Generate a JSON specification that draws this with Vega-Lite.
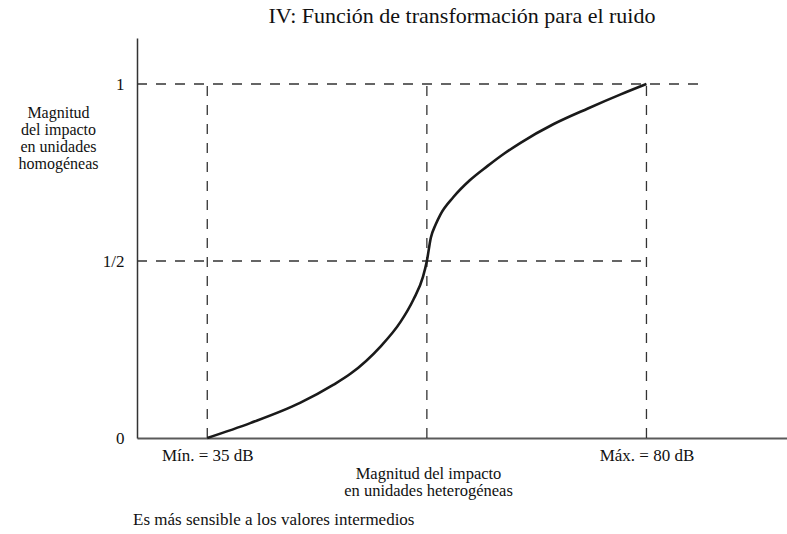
{
  "$schema": "https://vega.github.io/schema/vega-lite/v6.json",
  "autosize": "none",
  "width": 650,
  "height": 400,
  "padding": {"left": 137, "top": 38, "right": 0, "bottom": 96},
  "background": "white",
  "config": {
    "view": {"stroke": null},
    "font": "Liberation Serif",
    "axis": {"labelFont": "Liberation Serif", "titleFont": "Liberation Serif", "labelColor": "#111", "titleColor": "#111", "grid": false, "ticks": false, "titleFontWeight": "normal"},
    "title": {"font": "Liberation Serif", "fontWeight": "normal", "color": "#111"}
  },
  "title": {"text": "IV: Función de transformación para el ruido", "fontSize": 22, "anchor": "middle", "offset": 10},
  "datasets": {
    "guides": [
      {"x": 27.8, "x2": 85.8, "y": 1, "y2": 1},
      {"x": 27.8, "x2": 80, "y": 0.5, "y2": 0.5},
      {"x": 35, "x2": 35, "y": 0, "y2": 1},
      {"x": 57.5, "x2": 57.5, "y": 0, "y2": 1},
      {"x": 80, "x2": 80, "y": 0, "y2": 1}
    ],
    "curve": [
      {"db": 35, "v": 0},
      {"db": 39.4, "v": 0.042},
      {"db": 44.5, "v": 0.099},
      {"db": 47.9, "v": 0.15},
      {"db": 49.7, "v": 0.182},
      {"db": 52.7, "v": 0.257},
      {"db": 54.8, "v": 0.328},
      {"db": 56.1, "v": 0.39},
      {"db": 57.1, "v": 0.455},
      {"db": 57.5, "v": 0.5},
      {"db": 57.9, "v": 0.565},
      {"db": 58.4, "v": 0.603},
      {"db": 58.9, "v": 0.632},
      {"db": 60.2, "v": 0.68},
      {"db": 61.9, "v": 0.728},
      {"db": 63.7, "v": 0.768},
      {"db": 65.4, "v": 0.803},
      {"db": 67.1, "v": 0.834},
      {"db": 70.5, "v": 0.887},
      {"db": 74.0, "v": 0.931},
      {"db": 77.3, "v": 0.97},
      {"db": 80, "v": 1}
    ],
    "note": [
      {"x": 27.4, "y": -0.232, "text": "Es más sensible a los valores intermedios"}
    ]
  },
  "layer": [
    {
      "data": {"name": "guides"},
      "mark": {"type": "rule", "strokeDash": [10, 9], "color": "#333", "strokeWidth": 1.3},
      "encoding": {
        "x": {"field": "x", "type": "quantitative", "scale": {"domain": [27.8, 94.4], "nice": false, "zero": false},
          "axis": {"values": [35, 80], "labelExpr": "datum.value == 35 ? 'Mín. = 35 dB' : 'Máx. = 80 dB'", "labelFontSize": 17, "labelPadding": 9,
            "domainColor": "#5a5a5a", "domainWidth": 2,
            "title": ["Magnitud del impacto", "en unidades heterogéneas"], "titleFontSize": 16.5, "titleLineHeight": 17.5,
            "titleX": 291, "titleY": 27, "titleAlign": "center", "titleBaseline": "top"}},
        "x2": {"field": "x2"},
        "y": {"field": "y", "type": "quantitative", "scale": {"domain": [0, 1.13], "nice": false},
          "axis": {"values": [0, 0.5, 1], "labelExpr": "datum.value == 0.5 ? '1/2' : (datum.value == 1 ? '1' : '0')", "labelFontSize": 17, "labelPadding": 13,
            "domainColor": "#333", "domainWidth": 1.5,
            "title": ["Magnitud", "del impacto", "en unidades", "homogéneas"], "titleFontSize": 16, "titleLineHeight": 17,
            "titleAngle": 0, "titleX": -79, "titleY": 66, "titleAlign": "center", "titleBaseline": "top"}},
        "y2": {"field": "y2"}
      }
    },
    {
      "data": {"name": "curve"},
      "mark": {"type": "line", "color": "#1a1a1a", "strokeWidth": 2.6, "interpolate": "monotone"},
      "encoding": {
        "x": {"field": "db", "type": "quantitative"},
        "y": {"field": "v", "type": "quantitative"}
      }
    },
    {
      "data": {"name": "note"},
      "mark": {"type": "text", "align": "left", "baseline": "middle", "fontSize": 17, "font": "Liberation Serif", "color": "#111", "clip": false},
      "encoding": {
        "x": {"field": "x", "type": "quantitative"},
        "y": {"field": "y", "type": "quantitative"},
        "text": {"field": "text"}
      }
    }
  ]
}
